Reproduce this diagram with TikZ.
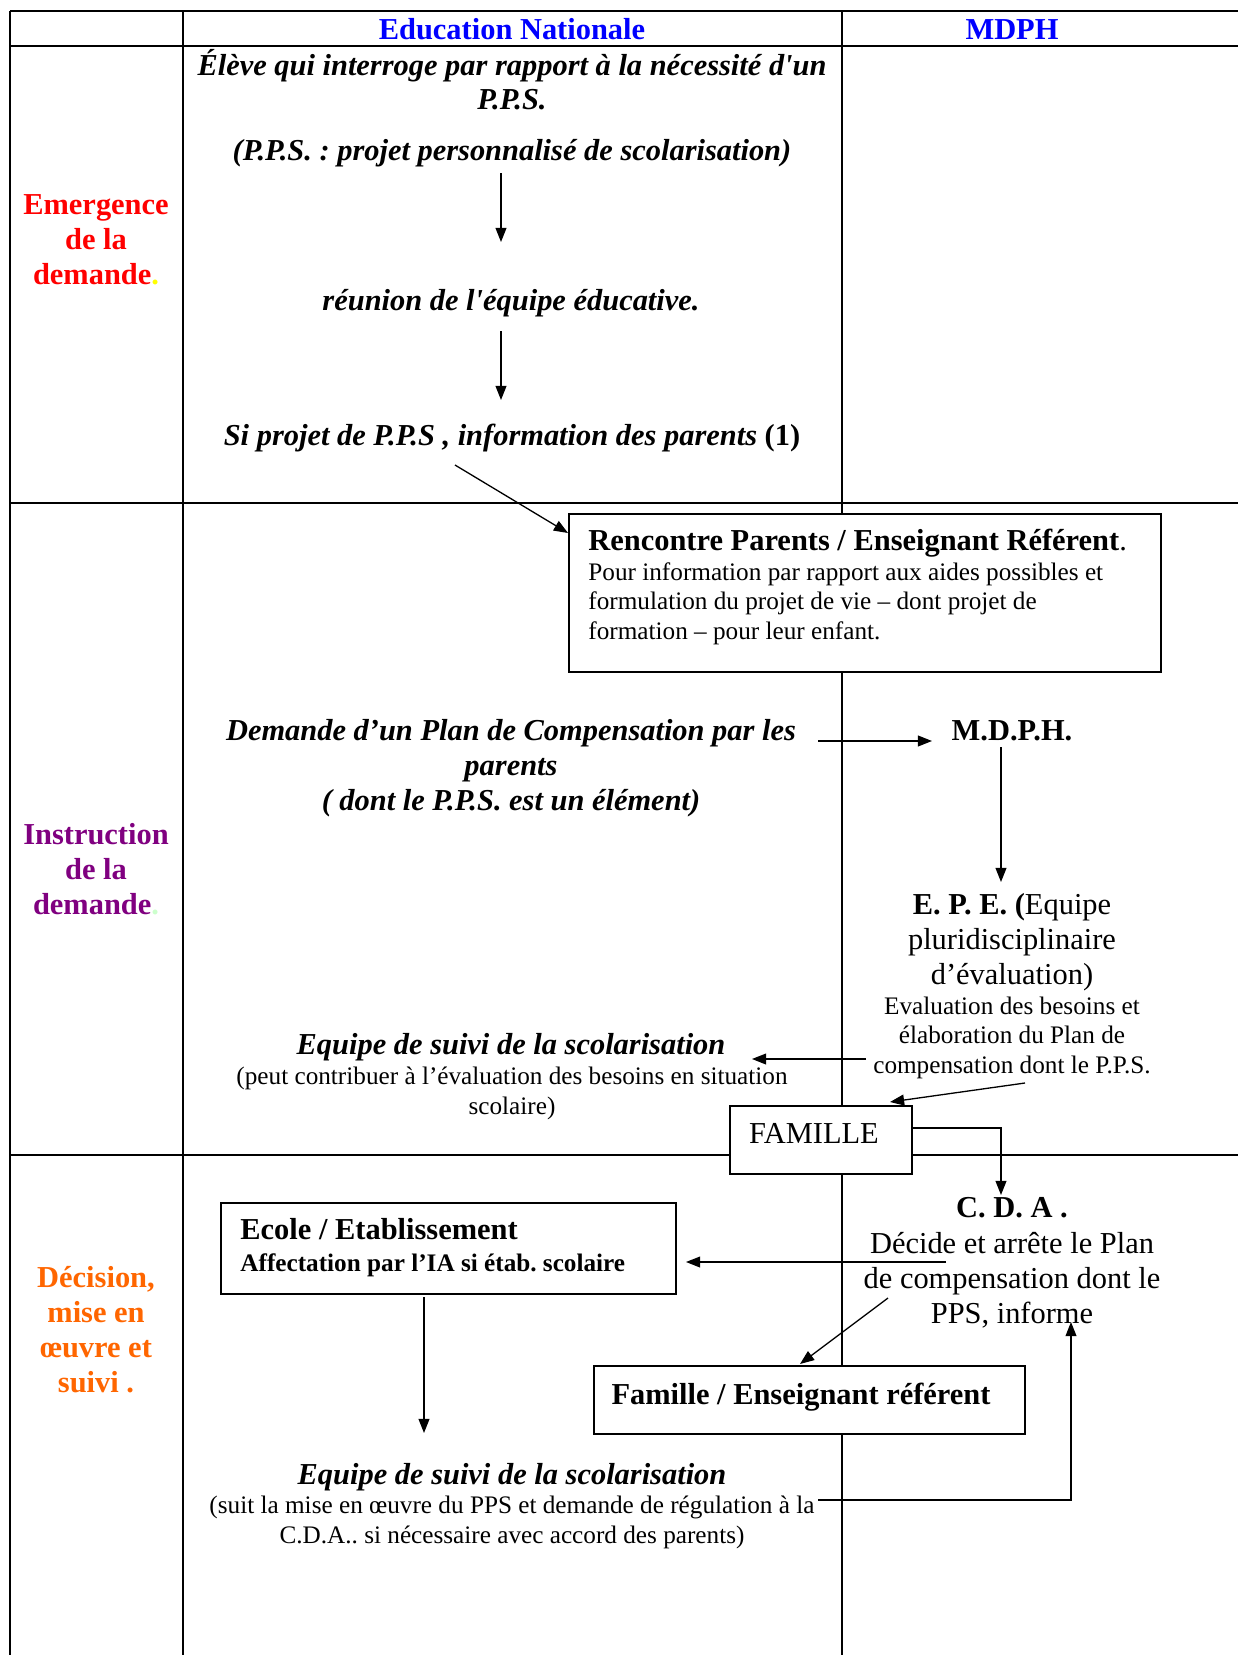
\documentclass[tikz,border=0pt]{standalone}
\usepackage{fontspec}
\setmainfont{Liberation Serif}
\usetikzlibrary{arrows.meta}
\definecolor{hblue}{RGB}{0,0,255}
\definecolor{lred}{RGB}{255,0,0}
\definecolor{lpurple}{RGB}{128,0,128}
\definecolor{lorange}{RGB}{255,102,0}
\definecolor{dotyellow}{RGB}{255,255,0}
\definecolor{dotgreen}{RGB}{204,255,204}
\frenchspacing
\begin{document}
\begin{tikzpicture}[x=0.46pt,y=-0.46pt,
  grid/.style={line width=0.9pt},
  frame/.style={draw,line width=0.8pt,fill=white,inner sep=0,minimum width=#1},
  arr/.style={line width=0.6pt,-{Triangle[length=6.5pt,width=5pt]}},
  t14/.style={font=\fontsize{14}{16}\selectfont,inner sep=0,align=center,anchor=base},
  t12/.style={font=\fontsize{11.6}{13.4}\selectfont,inner sep=0,align=center,anchor=base},
  lab/.style={font=\fontsize{14}{16}\selectfont\bfseries,inner sep=0,align=center,anchor=base}]
\useasboundingbox (0,0) rectangle (1238,1655);
\fill[white] (0,0) rectangle (1238,1655);
% table
\draw[grid] (10,11) -- (1238,11);
\draw[grid] (10,46) -- (1238,46);
\draw[grid] (10,503) -- (1238,503);
\draw[grid] (10,1155) -- (1238,1155);
\draw[grid] (10,11) -- (10,1655);
\draw[grid] (183,11) -- (183,1655);
\draw[grid] (842,11) -- (842,1655);
% headers
\node[lab,text=hblue] (hen) at (512,39) {Education Nationale};
\node[lab,text=hblue] (hmd) at (1012,39) {MDPH};
% left labels (anchor base = last line)
\node[lab,text=lred] (l1) at (96,284) {Emergence\\de la\\demande\textcolor{dotyellow}{.}};
\node[lab,text=lpurple] (l2) at (96,914) {Instruction\\de la\\demande\textcolor{dotgreen}{.}};
\node[lab,text=lorange] (l3) at (96,1392) {Décision,\\mise en\\œuvre et\\suivi .};
% emergence
\node[t14,font=\fontsize{14}{15.6}\selectfont\bfseries\itshape] (eleve) at (512,109) {Élève qui interroge par rapport à la nécessité d\textquotesingle un\\P.P.S.};
\node[t14,font=\fontsize{14}{16}\selectfont\bfseries\itshape] (pps) at (512,160) {(P.P.S. : projet personnalisé de scolarisation)};
\node[t14,font=\fontsize{14}{16}\selectfont\bfseries\itshape] (reu) at (511,310) {réunion de l\textquotesingle équipe éducative.};
\node[t14,font=\fontsize{14}{16}\selectfont\bfseries] (info) at (512,445) {\itshape Si projet de P.P.S , information des parents \upshape(1)};
\draw[arr] (501,173) -- (501,242);
\draw[arr] (501,331) -- (501,400);
% rencontre box
\node[frame=592*0.46pt,minimum height=158*0.46pt,anchor=north west] (renc) at (568,513) {};
\node[t14,anchor=base west,align=left,font=\fontsize{14}{16}\selectfont\bfseries] (renct) at (588,550) {Rencontre Parents / Enseignant Référent\mdseries.};
\node[t12,anchor=base west,align=left] (rencs) at (588,639) {Pour information par rapport aux aides possibles et\\formulation du projet de vie -- dont projet de\\formation -- pour leur enfant.};
\draw[arr] (455,465) -- ([yshift=-20*0.46pt]renc.north west);
% instruction
\node[t14,font=\fontsize{14}{16.1}\selectfont\bfseries\itshape] (dem) at (511,810) {Demande d’un Plan de Compensation par les\\parents\\( dont le P.P.S. est un élément)};
\node[t14,font=\fontsize{14}{16}\selectfont\bfseries] (mdph) at (1012,740) {M.D.P.H.};
\draw[arr] (818,741) -- (932,741);
\draw[arr] (1001,747) -- (1001,882);
\node[t14] (epe) at (1012,984) {\textbf{E. P. E. (}Equipe\\pluridisciplinaire\\d’évaluation)};
\node[t12] (epes) at (1012,1073) {Evaluation des besoins et\\élaboration du Plan de\\compensation dont le P.P.S.};
\node[t14,font=\fontsize{14}{16}\selectfont\bfseries\itshape] (esuiv1) at (511,1054) {Equipe de suivi de la scolarisation};
\node[t12] (esuiv1s) at (512,1114) {(peut contribuer à l’évaluation des besoins en situation\\scolaire)};
\draw[arr] (866,1059) -- (752,1059);
% famille
\node[frame=182*0.46pt,minimum height=68*0.46pt,anchor=north west] (fam) at (729,1105) {};
\node[t14] (famt) at (814,1143) {FAMILLE};
\draw[arr] (1025,1083) -- (890,1102);
% decision
\node[t14,font=\fontsize{14}{16}\selectfont\bfseries] (cda) at (1012,1217) {C. D. A .};
\node[t14] (cdas) at (1012,1323) {Décide et arrête le Plan\\de compensation dont le\\PPS, informe};
\draw[arr] (fam.east |- 0,1128) -| (1001,1195);
\node[frame=455*0.46pt,minimum height=91*0.46pt,anchor=north west] (ecole) at (220,1202) {};
\node[t14,anchor=base west,align=left,font=\fontsize{14}{16}\selectfont\bfseries] (ecolet) at (240,1239) {Ecole / Etablissement};
\node[t12,anchor=base west,align=left,font=\fontsize{11.6}{13.4}\selectfont\bfseries] (ecoles) at (240,1271) {Affectation par l’IA si étab. scolaire};
\draw[arr] (946,1262) -- (686,1262);
\draw[arr] (424,1297) -- (424,1433);
\node[frame=431*0.46pt,minimum height=68*0.46pt,anchor=north west] (famens) at (593,1365) {};
\node[t14,font=\fontsize{14}{16}\selectfont\bfseries] (famenst) at (801,1404) {Famille / Enseignant référent};
\draw[arr] (888,1298) -- (800,1364);
\node[t14,font=\fontsize{14}{16}\selectfont\bfseries\itshape] (esuiv2) at (512,1484) {Equipe de suivi de la scolarisation};
\node[t12] (esuiv2s) at (512,1543) {(suit la mise en œuvre du PPS et demande de régulation à la\\C.D.A.. si nécessaire avec accord des parents)};
\draw[arr] (818,1500) -| (1071,1322);
\end{tikzpicture}
\end{document}
